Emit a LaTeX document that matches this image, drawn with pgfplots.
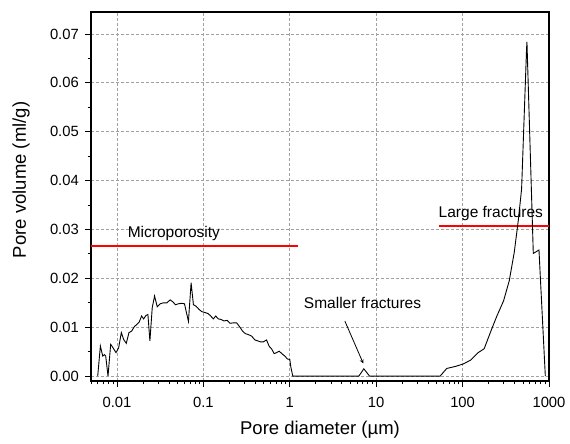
\documentclass[border=0pt]{standalone}
\usepackage{fontspec}
\setmainfont{Liberation Sans}
\usepackage{pgfplots}
\pgfplotsset{compat=1.18}
\definecolor{myred}{RGB}{255,0,0}
\definecolor{gridgray}{RGB}{160,160,160}
\begin{document}
\begin{tikzpicture}[x=1pt,y=1pt]
\begin{axis}[
  at={(91pt,63pt)}, anchor=south west,
  scale only axis, width=458pt, height=369pt,
  xmode=log, xmin=0.005, xmax=1000,
  ymin=-0.001, ymax=0.0745,
  xtick={0.01,0.1,1,10,100,1000},
  xticklabels={0.01,0.1,1,10,100,1000},
  minor xtick={0.005,0.006,0.007,0.008,0.009,0.02,0.03,0.04,0.05,0.06,0.07,0.08,0.09,0.2,0.3,0.4,0.5,0.6,0.7,0.8,0.9,2,3,4,5,6,7,8,9,20,30,40,50,60,70,80,90,200,300,400,500,600,700,800,900},
  ytick={0,0.01,0.02,0.03,0.04,0.05,0.06,0.07},
  minor y tick num=1,
  yticklabel style={/pgf/number format/fixed,/pgf/number format/fixed zerofill,/pgf/number format/precision=2},
  /pgf/number format/assume math mode=true,
  scaled y ticks=false,
  tick align=outside,
  xtick pos=left, ytick pos=left,
  major tick length=6pt, minor tick length=3.5pt,
  tick style={black, line width=0.9pt},
  axis line style={line width=1.2pt},
  xmajorgrids=true, ymajorgrids=true,
  major grid style={draw=gridgray, line width=0.9pt, dash pattern=on 3pt off 2pt},
  tick label style={font=\fontsize{14.8}{17}\selectfont},
  xticklabel style={inner sep=0pt, anchor=north, yshift=-10pt},
  yticklabel style={inner sep=0pt, anchor=east, xshift=-6pt},
  xlabel={Pore diameter (µm)},
  ylabel={Pore volume (ml/g)},
  label style={font=\fontsize{18.5}{21}\selectfont},
  xlabel style={at={(axis description cs:0.5,-0.1463)}, anchor=base},
  ylabel style={at={(axis description cs:-0.1420,0.545)}, anchor=base},
]
\addplot[draw=myred, line width=2pt] coordinates {(0.005,0.026622) (1.258,0.026622)};
\addplot[draw=myred, line width=2pt] coordinates {(53.4,0.030714) (1000,0.030714)};
\addplot[draw=black, line width=0.9pt] table {
x y
0.00598 0
0.00642 0.00614
0.00684 0.0041
0.00714 0.0044
0.00740 0.0041
0.00787 0
0.00845 0.0065
0.00899 0.0058
0.00974 0.0048
0.01045 0.0058
0.01122 0.0089
0.01194 0.0075
0.01281 0.0067
0.01375 0.0089
0.01476 0.0092
0.01585 0.0101
0.01701 0.0106
0.01810 0.0111
0.01926 0.0123
0.02032 0.0117
0.02162 0.0124
0.02279 0.0126
0.02403 0.0072
0.02557 0.0140
0.02721 0.0164
0.02921 0.0142
0.03162 0.0148
0.03455 0.0150
0.03775 0.0150
0.04124 0.0156
0.04427 0.0152
0.04752 0.0146
0.05147 0.0148
0.05623 0.0149
0.06036 0.0148
0.06364 0.0130
0.06712 0.0112
0.07206 0.0191
0.07666 0.0146
0.08230 0.0143
0.08834 0.0137
0.09567 0.0132
0.1045 0.0130
0.1132 0.0128
0.1215 0.0123
0.1304 0.0117
0.1388 0.0123
0.1490 0.0117
0.1599 0.0116
0.1732 0.0113
0.1891 0.0114
0.2031 0.0108
0.2219 0.0109
0.2424 0.0109
0.2649 0.0100
0.2843 0.0092
0.3052 0.0087
0.3305 0.0085
0.3612 0.0082
0.3946 0.0074
0.4274 0.0072
0.4587 0.0070
0.4924 0.0070
0.5379 0.0074
0.5774 0.0061
0.6143 0.0056
0.6596 0.0046
0.7017 0.0048
0.7534 0.0051
0.8088 0.0046
0.8756 0.0041
0.9399 0.0035
1.0 0.0034
1.027 0.0019
1.083 0
6.3 0
7.19 0.0015
8.38 0
54.9 0
65.6 0.00157
83.4 0.0020
102.3 0.0025
124.5 0.0033
151.4 0.0048
177.7 0.0056
212.4 0.0092
249.4 0.0123
298 0.0154
346.6 0.0195
396 0.0253
440.9 0.0318
481.8 0.0383
550.0 0.0670
555.6 0.0684
658 0.0251
765.6 0.0258
906.6 0
};
\node[anchor=base, font=\fontsize{15.5}{18}\selectfont] at (axis cs:0.0455,0.0283) {Microporosity};
\node[anchor=base, font=\fontsize{15.5}{18}\selectfont] at (axis cs:212.4,0.0325) {Large fractures};
\node[anchor=base, font=\fontsize{15.5}{18}\selectfont] at (axis cs:6.95,0.01378) {Smaller fractures};
\draw[-stealth, line width=0.8pt] (axis cs:4.34,0.01125) -- (axis cs:7.08,0.0026);
\end{axis}
\pgfresetboundingbox
\path[use as bounding box] (0,0) rectangle (570,444);
\end{tikzpicture}
\end{document}
